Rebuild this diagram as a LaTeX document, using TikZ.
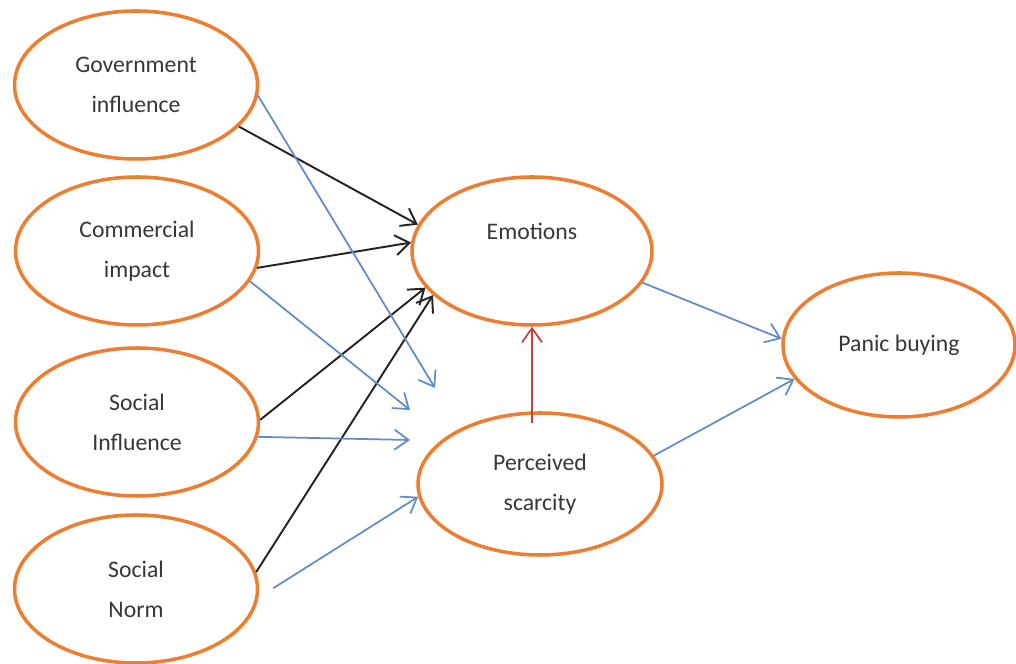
\documentclass[tikz,border=0pt]{standalone}
\usepackage{fontspec}
\setmainfont{Carlito}
\usepackage{tikz}
\usetikzlibrary{arrows.meta, shapes.geometric, positioning}

\definecolor{ellorange}{RGB}{237,125,49}
\definecolor{arrblue}{RGB}{96,140,200}
\definecolor{arrblack}{RGB}{35,35,35}
\definecolor{arrred}{RGB}{192,64,64}
\definecolor{txtgray}{RGB}{55,55,55}

\tikzset{
  factor/.style={ellipse, draw=ellorange, line width=2pt, fill=white,
    minimum width=4.86cm, minimum height=2.96cm, inner sep=0pt, align=center,
    text=txtgray, font=\fontsize{13.5}{22.7}\selectfont},
  blkarr/.style={arrblack, line width=1.1pt, -{Straight Barb[length=2.8mm,width=4mm]}},
  bluarr/.style={arrblue, line width=1pt, -{Straight Barb[length=2.8mm,width=4mm]}},
  redarr/.style={arrred, line width=1pt, -{Straight Barb[length=2.8mm,width=4mm]}}
}

\begin{document}
\begin{tikzpicture}

\useasboundingbox (0,0) rectangle (20.32,13.28);

\node[factor] (gov) at (2.72, 11.58) {Government\\influence};
\node[factor] (comm) at (2.74, 8.26) {Commercial\\impact};
\node[factor] (infl) at (2.74, 4.84) {Social\\Influence};
\node[factor] (norm) at (2.72, 1.50) {Social\\Norm};

\node[factor, minimum width=4.80cm] (emo) at (10.64, 8.26) {Emotions\\\mbox{}};
\node[factor, minimum width=4.88cm, minimum height=2.84cm] (scar) at (10.80, 3.60) {Perceived\\scarcity};
\node[factor, minimum width=4.64cm, minimum height=2.88cm] (panic) at (17.98, 6.38) {Panic buying};

\coordinate (govend) at (8.70, 5.52);
\coordinate (commend) at (8.20, 5.08);
\coordinate (inflend) at (8.20, 4.48);

% to emotions
\draw[blkarr] (gov.-22) -- (emo.167);
\draw[blkarr] (comm.-8) -- (emo.176);
\draw[blkarr] (infl.1) -- (emo.199);
\draw[blkarr] (norm.8) -- (emo.204);

% to perceived scarcity
\draw[bluarr] (gov.-5) -- (govend);
\draw[bluarr] (comm.-15) -- (commend);
\draw[bluarr] (infl.-7) -- (inflend);
\draw[bluarr, shorten <=0.35cm] (norm.-4) -- (scar.186);

\draw[redarr, shorten <=-0.24cm] (scar.north -| emo.south) -- (emo.south);

% to panic buying
\draw[bluarr] (emo.-16) -- (panic.177);
\draw[bluarr] (scar.14) -- (panic.198);

\end{tikzpicture}
\end{document}
